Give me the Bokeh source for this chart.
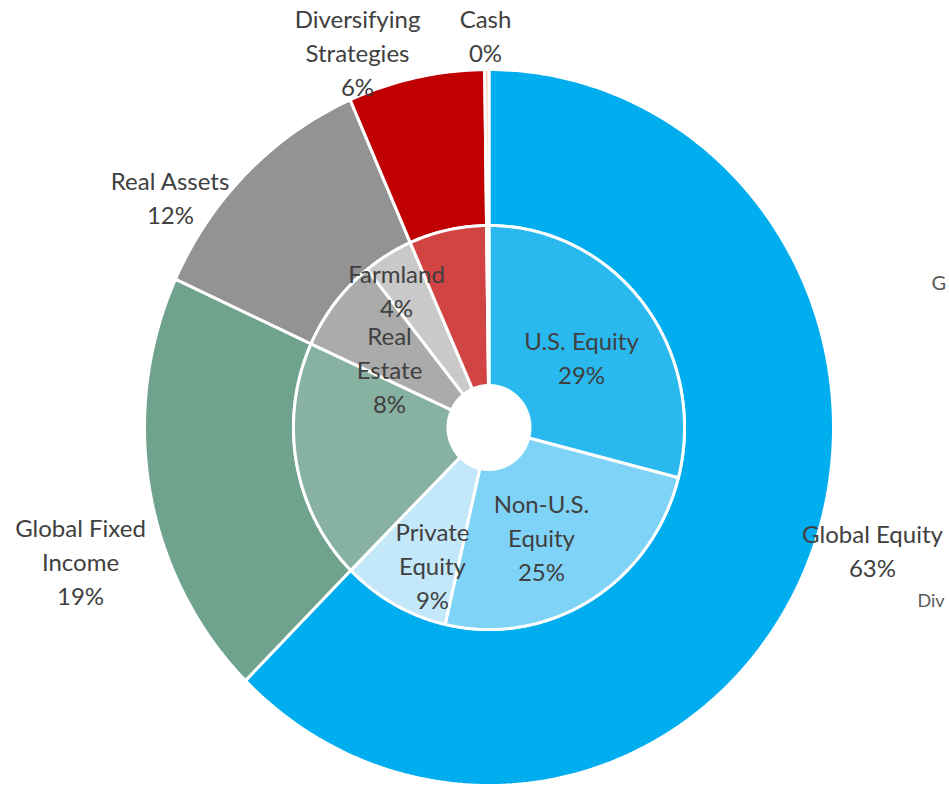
import numpy as np
from bokeh.plotting import figure
from bokeh.models import ColumnDataSource, Range1d
from bokeh.core.properties import value
from bokeh.embed import file_html
from bokeh.resources import INLINE

# ---- data ----
outer_names = ["Global Equity", "Global Fixed Income", "Real Assets", "Diversifying Strategies", "Cash"]
outer_values = [62.5, 19.3, 11.6, 6.4, 0.2]
outer_pct_labels = ["63%", "19%", "12%", "6%", "0%"]

inner_names = ["U.S. Equity", "Non-U.S. Equity", "Private Equity", "Global Fixed Income",
               "Real Estate", "Farmland", "Diversifying Strategies", "Cash"]
inner_values = [29.0, 24.6, 8.9, 19.3, 7.5, 4.1, 6.4, 0.2]
inner_pct_labels = ["29%", "25%", "9%", "", "8%", "4%", "", ""]

# ---- styles / layout ----
outer_colors = ["#00ADEF", "#6FA38D", "#939393", "#C00000", "#F8CBAD"]
inner_colors = ["#29B9EF", "#7FD3F7", "#C3E8FA", "#87B2A1", "#ABABAB", "#C9C9C9", "#D24444", "#F8CBAD"]

W, H = 949, 789
CX, CY = 488.5, 427.0
R_OUT = (344.5, 358.0)
R_MID = (195.5, 202.0)
R_HOLE = (41.0, 42.0)


def ring_patches(vals, r_in, r_out):
    vals = np.asarray(vals, dtype=float)
    cum = np.concatenate([[0], np.cumsum(vals)]) / vals.sum() * 2 * np.pi
    xs, ys = [], []
    for a0, a1 in zip(cum[:-1], cum[1:]):
        n = max(4, int((a1 - a0) / (2 * np.pi) * 400))
        t = np.linspace(a0, a1, n)
        xo = CX + r_out[0] * np.sin(t)
        yo = CY - r_out[1] * np.cos(t)
        xi = CX + r_in[0] * np.sin(t[::-1])
        yi = CY - r_in[1] * np.cos(t[::-1])
        xs.append(list(np.concatenate([xo, xi])))
        ys.append(list(np.concatenate([yo, yi])))
    return xs, ys


p = figure(width=W, height=H, output_backend="svg", toolbar_location=None,
           x_range=Range1d(0, W), y_range=Range1d(H, 0), min_border=0)
p.axis.visible = False
p.grid.visible = False
p.outline_line_color = None
p.background_fill_color = "white"

oxs, oys = ring_patches(outer_values, R_MID, R_OUT)
p.patches(xs="xs", ys="ys", fill_color="color", line_color="white", line_width=3,
          source=ColumnDataSource(dict(xs=oxs, ys=oys, color=outer_colors, name=outer_names)))

ixs, iys = ring_patches(inner_values, R_HOLE, R_MID)
p.patches(xs="xs", ys="ys", fill_color="color", line_color="white", line_width=3,
          source=ColumnDataSource(dict(xs=ixs, ys=iys, color=inner_colors, name=inner_names)))

# labels
FONT = value("Lato")
TXT = "#404040"
FS = "24px"
LH = 1.17

outer_label_text = ["Global Equity", "Global Fixed\nIncome", "Real Assets", "Diversifying\nStrategies", "Cash"]
outer_label_pos = [(872, 550), (80, 561), (170, 197), (357, 52), (485, 35)]
ot = [f"{n}\n{pc}" for n, pc in zip(outer_label_text, outer_pct_labels)]
p.text(x=[q[0] for q in outer_label_pos], y=[q[1] for q in outer_label_pos], text=ot,
       text_font=FONT, text_font_size=FS, text_color=TXT, text_align="center",
       text_baseline="middle", text_line_height=LH)

inner_label_text = ["U.S. Equity", "Non-U.S.\nEquity", "Private\nEquity", "Real\nEstate", "Farmland"]
inner_pcts = [inner_pct_labels[i] for i in (0, 1, 2, 4, 5)]
inner_label_pos = [(581, 357), (541, 537), (432, 565), (389, 369), (396, 290)]
it = [f"{n}\n{pc}" for n, pc in zip(inner_label_text, inner_pcts)]
p.text(x=[q[0] for q in inner_label_pos], y=[q[1] for q in inner_label_pos], text=it,
       text_font=FONT, text_font_size=FS, text_color=TXT, text_align="center",
       text_baseline="middle", text_line_height=LH)

# partially visible labels at the right edge (as seen in the reference)
p.text(x=[931, 917], y=[281, 599], text=["G", "Div"],
       text_font=FONT, text_font_size=["20px", "18px"], text_color="#595959",
       text_align="left", text_baseline="middle")

open("out.html", "w").write(file_html(p, INLINE))
